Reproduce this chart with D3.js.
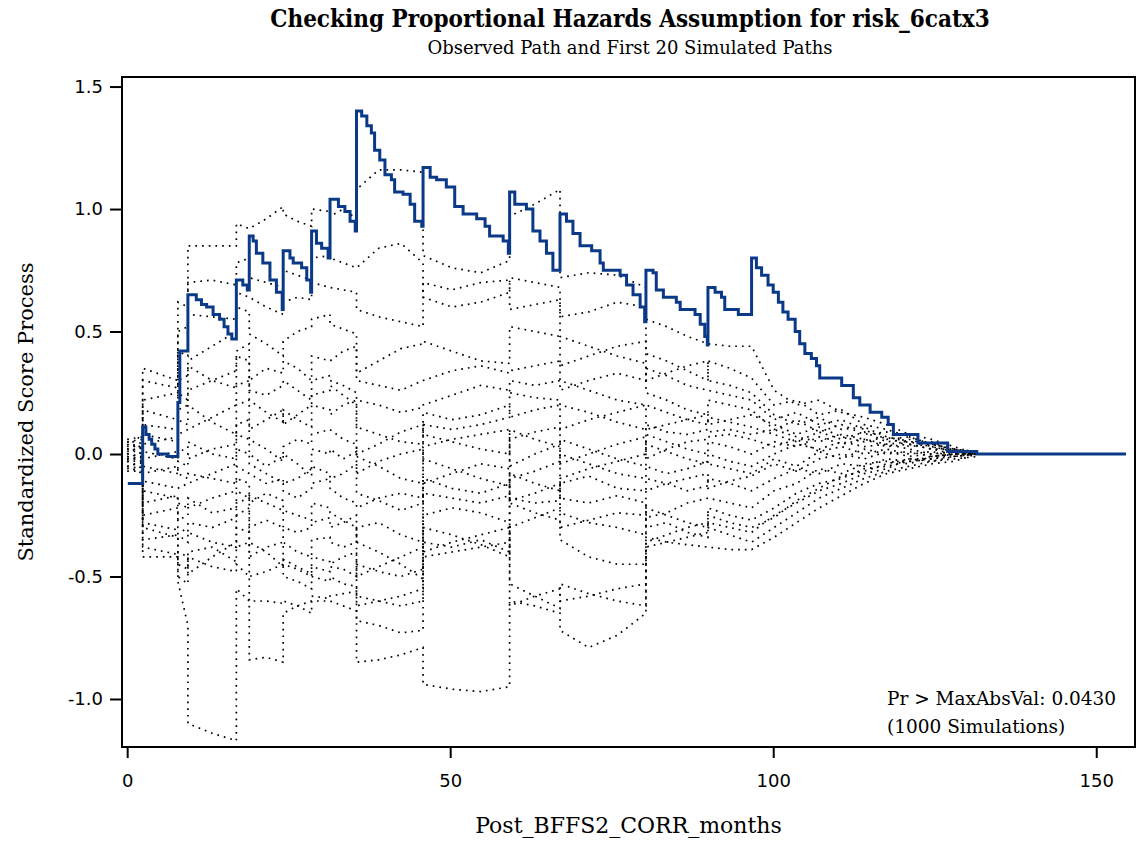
<!DOCTYPE html>
<html>
<head>
<meta charset="utf-8">
<script src="https://cdn.jsdelivr.net/npm/d3@7"></script>
<style>
  body { margin: 0; background: #fff; }
  .serif { font-family: "DejaVu Serif", serif; fill: #000; }
  .tick text { font-family: "DejaVu Sans", sans-serif; font-size: 18px; fill: #000; }
</style>
</head>
<body>
<script>
const w = 1136;
const h = 841;

// event times where every path (observed + simulated) can jump
const eventTimes = [0, 2.4, 7.85, 9.4, 16.9, 18.9, 24.15, 28.55, 31.4, 35.5, 45.8, 59.2, 67.0, 80.3, 89.9, 96.65, 131.5];

// observed path
const obsTime = [
  0.1, 2.4, 2.9, 3.4, 3.8, 4.3, 4.75, 6.3, 7.85, 8.15,
  9.4, 10.7, 11.5, 12.3, 13.3, 14.3, 15.0, 15.6, 16.2, 16.9,
  17.9, 18.6, 18.9, 19.5, 20.0, 21.0, 22.1, 23.1, 24.0, 24.15,
  25.2, 25.7, 27.0, 27.8, 28.4, 28.55, 29.3, 30.1, 31.1, 31.4,
  32.7, 33.7, 34.5, 35.3, 35.5, 36.3, 37.1, 37.8, 38.3, 39.1,
  39.9, 40.9, 41.4, 42.7, 43.8, 44.5, 45.6, 45.8, 46.9, 47.9,
  49.4, 50.7, 52.0, 54.1, 55.4, 56.1, 58.2, 59.0, 59.2, 60.0,
  61.8, 62.8, 63.9, 64.9, 65.9, 67.0, 68.0, 69.0, 70.1, 71.9,
  73.2, 73.7, 76.3, 77.3, 78.3, 79.4, 80.1, 80.3, 81.4, 81.9,
  83.0, 85.0, 85.6, 87.9, 88.7, 89.4, 89.8, 89.9, 91.0, 92.0,
  92.5, 94.6, 96.65, 97.4, 98.2, 99.2, 100.0, 100.8, 101.5, 102.3,
  103.4, 104.1, 104.9, 105.9, 106.7, 107.2, 110.6, 112.4, 113.4, 115.0,
  116.8, 117.8, 118.6, 122.4, 127.0, 131.5, 154.6
];
const obsValue = [
  -0.12, 0.11, 0.08, 0.06, 0.04, 0.02, 0.0, -0.01, 0.21, 0.42,
  0.65, 0.63, 0.61, 0.60, 0.57, 0.55, 0.52, 0.49, 0.47, 0.71,
  0.69, 0.67, 0.89, 0.87, 0.82, 0.78, 0.71, 0.66, 0.59, 0.83,
  0.80, 0.78, 0.76, 0.71, 0.66, 0.91, 0.86, 0.84, 0.80, 1.04,
  1.01, 0.99, 0.95, 0.91, 1.40, 1.38, 1.34, 1.31, 1.24, 1.20,
  1.14, 1.12, 1.07, 1.06, 1.02, 0.95, 0.93, 1.17, 1.13, 1.12,
  1.09, 1.01, 0.98, 0.96, 0.93, 0.89, 0.87, 0.82, 1.07, 1.02,
  1.00, 0.91, 0.87, 0.82, 0.75, 0.98, 0.95, 0.90, 0.85, 0.83,
  0.78, 0.75, 0.73, 0.69, 0.65, 0.60, 0.54, 0.75, 0.74, 0.67,
  0.64, 0.62, 0.59, 0.57, 0.53, 0.48, 0.445, 0.68, 0.66, 0.64,
  0.59, 0.57, 0.80, 0.76, 0.73, 0.69, 0.66, 0.62, 0.58, 0.55,
  0.50, 0.45, 0.41, 0.39, 0.36, 0.31, 0.28, 0.23, 0.20, 0.17,
  0.15, 0.12, 0.08, 0.045, 0.01, 0.0, 0.0
];

// simulated paths: one array per interval between event times,
// one row per path (20), values read left to right within the interval
const simSegments = [
  [[0.03,0.08],[0.05,0.06],[0.02,0.05],[0.06,0.07],[0.01,0.03],[0.04,0.02],[0.00,0.04],[-0.02,0.01],[0.02,0.0],[-0.03,-0.01],[0.05,0.02],[-0.01,-0.02],[-0.05,-0.03],[0.0,-0.01],[-0.02,-0.04],[-0.06,-0.05],[-0.03,-0.06],[-0.01,-0.03],[-0.05,-0.08],[-0.07,-0.07]],
  [[0.35,0.30],[0.30,0.27],[0.22,0.25],[0.18,0.14],[0.12,0.10],[0.08,0.05],[0.04,0.07],[0.01,-0.02],[-0.02,0.01],[-0.05,-0.08],[-0.08,-0.05],[-0.11,-0.14],[-0.15,-0.18],[-0.20,-0.17],[-0.28,-0.31],[-0.30,-0.34],[-0.35,-0.33],[-0.38,-0.41],[-0.42,-0.42],[-0.25,-0.22]],
  [[0.62,0.60],[0.50,0.52],[0.42,0.40],[0.30,0.32],[0.25,0.22],[0.18,0.20],[0.14,0.12],[0.08,0.10],[0.03,0.00],[-0.03,-0.05],[-0.08,-0.10],[-0.14,-0.12],[-0.20,-0.22],[-0.27,-0.25],[-0.33,-0.36],[-0.40,-0.42],[-0.45,-0.47],[-0.50,-0.53],[-0.52,-0.70],[-0.30,-0.32]],
  [[0.85,0.85,0.85],[0.70,0.71,0.69],[0.57,0.56,0.55],[0.38,0.44,0.50],[0.36,0.30,0.27],[0.26,0.30,0.34],[0.20,0.13,0.08],[0.10,0.15,0.20],[0.05,0.00,-0.02],[-0.02,0.02,0.04],[-0.08,-0.10,-0.12],[-0.12,-0.08,-0.04],[-0.18,-0.24,-0.22],[-0.22,-0.18,-0.15],[-0.32,-0.36,-0.38],[-0.49,-0.42,-0.36],[-0.42,-0.46,-0.48],[-0.40,-0.38,-0.44],[-1.10,-1.14,-1.17],[-0.28,-0.30,-0.26]],
  [[0.94,0.92],[0.78,0.80],[0.66,0.64],[0.60,0.58],[0.42,0.45],[0.40,0.38],[0.20,0.22],[0.28,0.30],[0.08,0.06],[0.12,0.14],[-0.05,-0.08],[0.02,0.00],[-0.15,-0.18],[-0.10,-0.12],[-0.30,-0.32],[-0.25,-0.22],[-0.45,-0.50],[-0.38,-0.36],[-0.55,-0.60],[-0.20,-0.18]],
  [[0.92,0.96,1.01],[0.72,0.70,0.68],[0.64,0.60,0.57],[0.49,0.45,0.40],[0.30,0.35,0.33],[0.26,0.24,0.28],[0.22,0.17,0.13],[0.10,0.14,0.18],[0.06,0.02,-0.03],[0.00,-0.05,-0.01],[-0.08,-0.12,-0.10],[-0.04,-0.08,-0.12],[-0.17,-0.20,-0.23],[-0.20,-0.16,-0.19],[-0.36,-0.40,-0.46],[-0.30,-0.27,-0.30],[-0.60,-0.60,-0.61],[-0.42,-0.38,-0.36],[-0.84,-0.83,-0.85],[-0.50,-0.48,-0.45]],
  [[0.98,0.95,0.93],[0.75,0.73,0.71],[0.62,0.64,0.63],[0.46,0.50,0.52],[0.38,0.35,0.30],[0.30,0.26,0.22],[0.18,0.14,0.11],[0.12,0.16,0.20],[0.00,-0.04,-0.09],[0.03,0.06,0.04],[-0.12,-0.10,-0.06],[-0.15,-0.18,-0.14],[-0.23,-0.25,-0.27],[-0.30,-0.32,-0.30],[-0.43,-0.46,-0.49],[-0.36,-0.40,-0.42],[-0.60,-0.62,-0.65],[-0.50,-0.52,-0.55],[-0.65,-0.62,-0.60],[-0.45,-0.47,-0.50]],
  [[1.00,0.99],[0.80,0.81],[0.70,0.68],[0.55,0.57],[0.40,0.38],[0.30,0.32],[0.20,0.18],[0.24,0.26],[0.02,0.00],[0.08,0.10],[-0.05,-0.08],[-0.12,-0.10],[-0.20,-0.22],[-0.28,-0.26],[-0.42,-0.44],[-0.35,-0.34],[-0.58,-0.59],[-0.50,-0.52],[-0.60,-0.60],[-0.46,-0.48]],
  [[0.97,1.00,0.96],[0.80,0.78,0.76],[0.68,0.67,0.66],[0.53,0.51,0.49],[0.38,0.42,0.44],[0.30,0.28,0.25],[0.16,0.20,0.22],[0.28,0.24,0.20],[0.02,-0.02,0.01],[0.10,0.06,0.04],[-0.10,-0.08,-0.04],[-0.14,-0.18,-0.20],[-0.24,-0.27,-0.30],[-0.30,-0.28,-0.25],[-0.45,-0.42,-0.40],[-0.36,-0.38,-0.36],[-0.58,-0.57,-0.56],[-0.50,-0.53,-0.54],[-0.60,-0.62,-0.64],[-0.46,-0.47,-0.50]],
  [[1.08,1.16,1.16,1.15],[0.76,0.84,0.86,0.78],[0.59,0.56,0.54,0.52],[0.33,0.38,0.43,0.45],[0.30,0.28,0.26,0.30],[0.22,0.20,0.17,0.19],[0.11,0.08,0.05,0.04],[0.00,0.04,0.09,0.12],[-0.01,-0.05,-0.10,-0.12],[-0.08,-0.03,0.00,0.02],[-0.16,-0.19,-0.23,-0.20],[-0.22,-0.18,-0.16,-0.18],[-0.36,-0.40,-0.45,-0.51],[-0.50,-0.46,-0.42,-0.38],[-0.58,-0.60,-0.62,-0.60],[-0.30,-0.28,-0.33,-0.36],[-0.68,-0.70,-0.73,-0.72],[-0.62,-0.60,-0.58,-0.55],[-0.85,-0.84,-0.82,-0.79],[-0.45,-0.48,-0.50,-0.47]],
  [[0.81,0.76,0.74,0.79],[0.64,0.60,0.62,0.66],[0.70,0.67,0.70,0.71],[0.46,0.42,0.38,0.37],[0.30,0.34,0.36,0.33],[0.20,0.24,0.28,0.26],[0.17,0.14,0.16,0.20],[0.08,0.05,0.02,0.00],[0.03,0.06,0.08,0.10],[-0.02,-0.06,-0.10,-0.13],[-0.12,-0.08,-0.04,-0.06],[-0.16,-0.18,-0.20,-0.17],[-0.30,-0.33,-0.37,-0.42],[-0.40,-0.36,-0.33,-0.30],[-0.25,-0.22,-0.24,-0.28],[-0.36,-0.38,-0.35,-0.40],[-0.42,-0.40,-0.38,-0.36],[-0.10,-0.14,-0.16,-0.12],[-0.94,-0.96,-0.97,-0.95],[0.12,0.10,0.12,0.15]],
  [[0.97,1.02,1.08],[0.72,0.70,0.68],[0.59,0.61,0.63],[0.52,0.50,0.48],[0.34,0.36,0.38],[0.25,0.23,0.22],[0.15,0.18,0.20],[0.10,0.06,0.03],[-0.05,0.00,0.04],[-0.08,-0.12,-0.15],[-0.19,-0.16,-0.12],[-0.20,-0.24,-0.27],[-0.30,-0.26,-0.22],[-0.53,-0.58,-0.63],[-0.62,-0.58,-0.55],[-0.10,-0.07,-0.03],[0.06,0.09,0.11],[-0.18,-0.20,-0.19],[-0.60,-0.62,-0.65],[0.30,0.28,0.30]],
  [[0.72,0.74,0.73,0.68],[0.56,0.58,0.62,0.60],[0.48,0.44,0.40,0.37],[0.36,0.40,0.44,0.46],[0.30,0.26,0.22,0.20],[0.20,0.17,0.13,0.10],[0.10,0.14,0.17,0.20],[0.06,0.02,-0.02,-0.05],[-0.04,0.00,0.04,0.07],[-0.12,-0.09,-0.14,-0.15],[-0.24,-0.28,-0.30,-0.33],[-0.30,-0.27,-0.24,-0.25],[-0.35,-0.42,-0.45,-0.45],[-0.53,-0.57,-0.60,-0.62],[-0.60,-0.58,-0.55,-0.53],[0.00,-0.04,-0.08,-0.10],[-0.18,-0.20,-0.17,-0.20],[-0.10,-0.06,-0.03,0.00],[-0.72,-0.79,-0.74,-0.65],[0.26,0.30,0.33,0.30]],
  [[0.55,0.52,0.48,0.45],[0.41,0.38,0.34,0.30],[0.30,0.33,0.36,0.38],[0.25,0.22,0.18,0.16],[0.20,0.17,0.14,0.12],[0.10,0.12,0.14,0.16],[0.08,0.05,0.02,0.00],[0.04,0.01,-0.02,-0.04],[-0.02,0.02,0.05,0.06],[-0.10,-0.12,-0.15,-0.13],[-0.15,-0.12,-0.10,-0.08],[-0.22,-0.25,-0.28,-0.30],[-0.26,-0.24,-0.20,-0.18],[-0.38,-0.36,-0.34,-0.32],[-0.34,-0.36,-0.37,-0.38],[-0.05,-0.08,-0.06,-0.03],[-0.30,-0.28,-0.32,-0.34],[0.12,0.09,0.08,0.10],[-0.36,-0.33,-0.30,-0.28],[0.35,0.32,0.28,0.26]],
  [[0.45,0.44,0.44],[0.38,0.35,0.31],[0.30,0.28,0.25],[0.22,0.20,0.18],[0.15,0.13,0.11],[0.12,0.14,0.16],[0.05,0.03,0.00],[0.00,-0.03,-0.05],[0.07,0.08,0.06],[-0.10,-0.12,-0.15],[-0.14,-0.11,-0.09],[-0.22,-0.25,-0.27],[-0.18,-0.20,-0.22],[-0.30,-0.33,-0.36],[-0.38,-0.39,-0.39],[-0.04,-0.06,-0.08],[-0.28,-0.30,-0.32],[0.09,0.10,0.08],[-0.25,-0.28,-0.30],[0.26,0.24,0.22]],
  [[0.44,0.26,0.20,0.22,0.17,0.15,0.12,0.08,0.06,0.03,0.00],
   [0.31,0.20,0.22,0.16,0.18,0.12,0.10,0.07,0.04,0.02,0.00],
   [0.25,0.16,0.12,0.15,0.10,0.11,0.07,0.05,0.05,0.01,0.00],
   [0.18,0.10,0.14,0.09,0.12,0.08,0.09,0.04,0.02,0.02,0.00],
   [0.11,0.08,0.05,0.09,0.06,0.09,0.05,0.06,0.03,0.01,0.00],
   [0.16,0.12,0.08,0.11,0.07,0.05,0.07,0.03,0.04,0.02,0.01],
   [0.00,0.05,0.03,0.07,0.04,0.06,0.03,0.04,0.02,0.00,0.00],
   [-0.05,0.00,0.04,0.02,0.05,0.03,0.04,0.02,0.00,0.01,0.00],
   [0.06,0.03,0.06,0.01,0.03,0.00,0.02,0.00,0.01,-0.01,0.00],
   [-0.15,-0.10,-0.06,-0.08,-0.04,-0.05,-0.02,-0.03,-0.01,0.00,0.00],
   [-0.09,-0.04,-0.07,-0.02,0.00,-0.02,0.01,-0.01,0.00,0.01,0.00],
   [-0.27,-0.22,-0.16,-0.12,-0.10,-0.06,-0.05,-0.03,-0.02,-0.01,0.00],
   [-0.22,-0.15,-0.12,-0.06,-0.08,-0.04,-0.03,-0.04,-0.01,0.00,0.00],
   [-0.36,-0.30,-0.24,-0.18,-0.14,-0.10,-0.07,-0.05,-0.03,-0.02,-0.01],
   [-0.39,-0.34,-0.28,-0.22,-0.17,-0.12,-0.08,-0.06,-0.04,-0.03,0.00],
   [-0.08,-0.02,-0.05,0.01,-0.02,0.02,0.00,0.01,-0.01,0.00,0.00],
   [-0.32,-0.25,-0.20,-0.15,-0.12,-0.08,-0.06,-0.02,-0.03,-0.01,0.00],
   [0.08,0.10,0.07,0.05,0.08,0.06,0.04,0.05,0.03,0.01,0.00],
   [-0.30,-0.26,-0.19,-0.14,-0.09,-0.07,-0.04,-0.02,-0.02,0.00,0.00],
   [0.22,0.14,0.17,0.12,0.14,0.10,0.06,0.07,0.04,0.02,0.00]]
];

const xTicks = [0, 50, 100, 150];
const xTickLabels = ["0", "50", "100", "150"];
const yTicks = [-1.0, -0.5, 0.0, 0.5, 1.0, 1.5];
const yTickLabels = ["-1.0", "-0.5", "0.0", "0.5", "1.0", "1.5"];

const plotLeft = 122, plotRight = 1135, plotTop = 77, plotBottom = 747;

const xScale = d3.scaleLinear().domain([-0.8, 156]).range([plotLeft, plotRight]);
const yScale = d3.scaleLinear().domain([-1.196, 1.539]).range([plotBottom, plotTop]);

const svg = d3.select("body")
  .append("svg")
  .attr("width", w)
  .attr("height", h);

// simulated paths
const simPaths = d3.range(20).map(i => {
  const pts = [];
  simSegments.forEach((seg, k) => {
    const vals = seg[i];
    const t0 = eventTimes[k], t1 = eventTimes[k + 1];
    vals.forEach((v, j) => pts.push([t0 + (t1 - t0) * j / (vals.length - 1), v]));
  });
  return pts;
});

const simLine = d3.line()
  .x(d => xScale(d[0]))
  .y(d => yScale(d[1]));

svg.append("g")
  .selectAll("path")
  .data(simPaths)
  .enter()
  .append("path")
  .attr("d", simLine)
  .attr("fill", "none")
  .attr("stroke", "#000")
  .attr("stroke-width", 1.7)
  .attr("stroke-dasharray", "1.7 5");

// observed path
const obs = obsTime.map((t, i) => [t, obsValue[i]]);
const obsLine = d3.line()
  .x(d => xScale(d[0]))
  .y(d => yScale(d[1]))
  .curve(d3.curveStepAfter);

svg.append("path")
  .datum(obs)
  .attr("d", obsLine)
  .attr("fill", "none")
  .attr("stroke", "#0a3987")
  .attr("stroke-width", 3);

// axes
const xAxis = d3.axisBottom(xScale)
  .tickValues(xTicks)
  .tickFormat((d, i) => xTickLabels[i])
  .tickSize(11)
  .tickPadding(16);

const yAxis = d3.axisLeft(yScale)
  .tickValues(yTicks)
  .tickFormat((d, i) => yTickLabels[i])
  .tickSize(12)
  .tickPadding(7);

const gx = svg.append("g")
  .attr("transform", "translate(0," + plotBottom + ")")
  .call(xAxis);
const gy = svg.append("g")
  .attr("transform", "translate(" + plotLeft + ",0)")
  .call(yAxis);
[gx, gy].forEach(g => {
  g.select(".domain").remove();
  g.selectAll(".tick line").attr("stroke", "#000").attr("stroke-width", 2);
});

// frame
svg.append("rect")
  .attr("x", plotLeft)
  .attr("y", plotTop)
  .attr("width", plotRight - plotLeft)
  .attr("height", plotBottom - plotTop)
  .attr("fill", "none")
  .attr("stroke", "#000")
  .attr("stroke-width", 2);

// titles
svg.append("text")
  .attr("class", "serif")
  .attr("x", 630)
  .attr("y", 27)
  .attr("text-anchor", "middle")
  .attr("font-size", "24px")
  .attr("font-weight", "bold")
  .attr("font-stretch", "condensed")
  .style("font-family", "'DejaVu Serif Condensed', 'DejaVu Serif', serif")
  .text("Checking Proportional Hazards Assumption for risk_6catx3");

svg.append("text")
  .attr("class", "serif")
  .attr("x", 630)
  .attr("y", 54)
  .attr("text-anchor", "middle")
  .attr("font-size", "18px")
  .text("Observed Path and First 20 Simulated Paths");

svg.append("text")
  .attr("class", "serif")
  .attr("x", (plotLeft + plotRight) / 2)
  .attr("y", 833)
  .attr("text-anchor", "middle")
  .attr("font-size", "22px")
  .text("Post_BFFS2_CORR_months");

svg.append("text")
  .attr("class", "serif")
  .attr("transform", "translate(33," + (plotTop + plotBottom) / 2 + ") rotate(-90)")
  .attr("text-anchor", "middle")
  .attr("font-size", "21px")
  .text("Standardized Score Process");

// inset statistics
svg.append("text")
  .attr("class", "serif")
  .attr("x", 887)
  .attr("y", 705)
  .attr("font-size", "18.5px")
  .text("Pr > MaxAbsVal: 0.0430");

svg.append("text")
  .attr("class", "serif")
  .attr("x", 887)
  .attr("y", 733)
  .attr("font-size", "18.5px")
  .text("(1000 Simulations)");
</script>
</body>
</html>
